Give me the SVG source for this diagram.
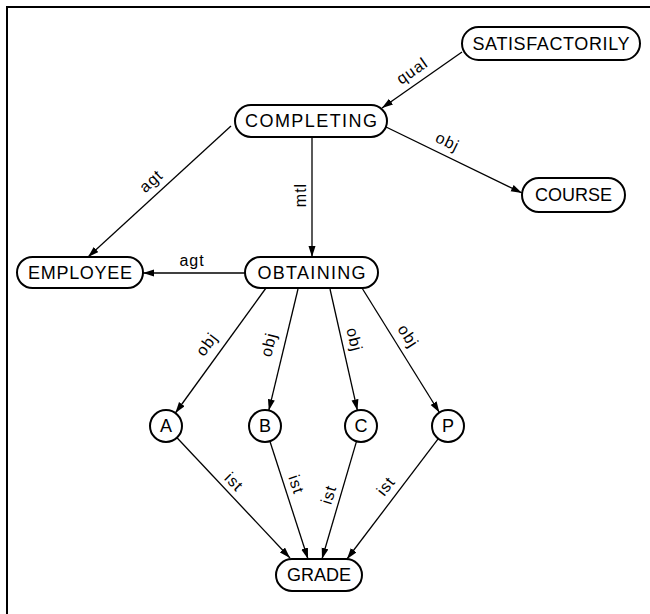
<svg xmlns="http://www.w3.org/2000/svg" width="650" height="614" viewBox="0 0 650 614">
<style>
.node{fill:#fff;stroke:#000;stroke-width:2}
.nt{font-family:"Liberation Sans",Arial,sans-serif;font-size:18px;fill:#000;text-anchor:middle;dominant-baseline:central}
.edge{fill:none;stroke:#000;stroke-width:1.3;marker-end:url(#arr)}
.lbl{font-family:"Liberation Sans",Arial,sans-serif;font-size:16px;fill:#000;text-anchor:middle;letter-spacing:1px}
.frame{stroke:#000;stroke-width:2;fill:none}
</style>
<defs>
<marker id="arr" markerUnits="userSpaceOnUse" markerWidth="12" markerHeight="8" refX="11" refY="3.5" orient="auto">
<path d="M0,0 L11,3.5 L0,7 z" fill="#000"/>
</marker>
</defs>
<rect width="650" height="614" fill="#fff"/>
<path class="frame" d="M650,7 H7 V614"/>
<g id="connectors">
<line class="edge" x1="462" y1="52" x2="382" y2="108"/>
<line class="edge" x1="231" y1="126" x2="88" y2="257"/>
<line class="edge" x1="312" y1="137" x2="312" y2="257"/>
<line class="edge" x1="384" y1="126" x2="522" y2="193"/>
<line class="edge" x1="245" y1="273" x2="143" y2="273"/>
<line class="edge" x1="266" y1="288" x2="175.4" y2="413"/>
<line class="edge" x1="298" y1="289" x2="268.8" y2="410.4"/>
<line class="edge" x1="330" y1="289" x2="357.4" y2="410.4"/>
<line class="edge" x1="362" y1="288" x2="439.4" y2="412.5"/>
<line class="edge" x1="177" y1="437.7" x2="290" y2="558"/>
<line class="edge" x1="269.9" y1="441.2" x2="308" y2="559"/>
<line class="edge" x1="356.5" y1="441.4" x2="322" y2="559"/>
<line class="edge" x1="438.3" y1="438.7" x2="347" y2="559"/>
<text class="lbl" transform="translate(413,72) rotate(-35)" y="4">qual</text>
<text class="lbl" transform="translate(152,182) rotate(-42)" y="4">agt</text>
<text class="lbl" transform="translate(302,195) rotate(-90)" y="4">mtl</text>
<text class="lbl" transform="translate(447,143) rotate(26)" y="4">obj</text>
<text class="lbl" x="192" y="266">agt</text>
<text class="lbl" transform="translate(208,345) rotate(-53)" y="4">obj</text>
<text class="lbl" transform="translate(270,345) rotate(-76)" y="4">obj</text>
<text class="lbl" transform="translate(353,340) rotate(76)" y="4">obj</text>
<text class="lbl" transform="translate(407,337) rotate(57)" y="4">obj</text>
<text class="lbl" transform="translate(233,483) rotate(45)" y="4">ist</text>
<text class="lbl" transform="translate(295,485) rotate(71)" y="4">ist</text>
<text class="lbl" transform="translate(330,495) rotate(-73)" y="4">ist</text>
<text class="lbl" transform="translate(387,487) rotate(-52)" y="4">ist</text>
</g>
<g id="satisfactorily">
<rect class="node" x="462" y="27" width="178" height="33" rx="16.5"/>
<text class="nt" x="551" y="43.5" textLength="157" lengthAdjust="spacing">SATISFACTORILY</text>
</g>
<g id="completing">
<rect class="node" x="235" y="105" width="152" height="32" rx="16"/>
<text class="nt" x="311" y="121" textLength="132" lengthAdjust="spacing">COMPLETING</text>
</g>
<g id="course">
<rect class="node" x="522" y="178" width="103" height="34" rx="17"/>
<text class="nt" x="573.5" y="195">COURSE</text>
</g>
<g id="employee">
<rect class="node" x="17" y="257" width="126" height="31" rx="15.5"/>
<text class="nt" x="80" y="272.5" textLength="104" lengthAdjust="spacing">EMPLOYEE</text>
</g>
<g id="obtaining">
<rect class="node" x="245" y="257" width="133" height="31" rx="15.5"/>
<text class="nt" x="311.5" y="272.5" textLength="108" lengthAdjust="spacing">OBTAINING</text>
</g>
<g id="a">
<circle class="node" cx="166" cy="426" r="16"/>
<text class="nt" x="166" y="426">A</text>
</g>
<g id="b">
<circle class="node" cx="265" cy="426" r="16"/>
<text class="nt" x="265" y="426">B</text>
</g>
<g id="c">
<circle class="node" cx="361" cy="426" r="16"/>
<text class="nt" x="361" y="426">C</text>
</g>
<g id="p">
<circle class="node" cx="448" cy="426" r="16"/>
<text class="nt" x="448" y="426">P</text>
</g>
<g id="grade">
<rect class="node" x="276" y="559" width="86" height="32" rx="16"/>
<text class="nt" x="319" y="575">GRADE</text>
</g>
</svg>
